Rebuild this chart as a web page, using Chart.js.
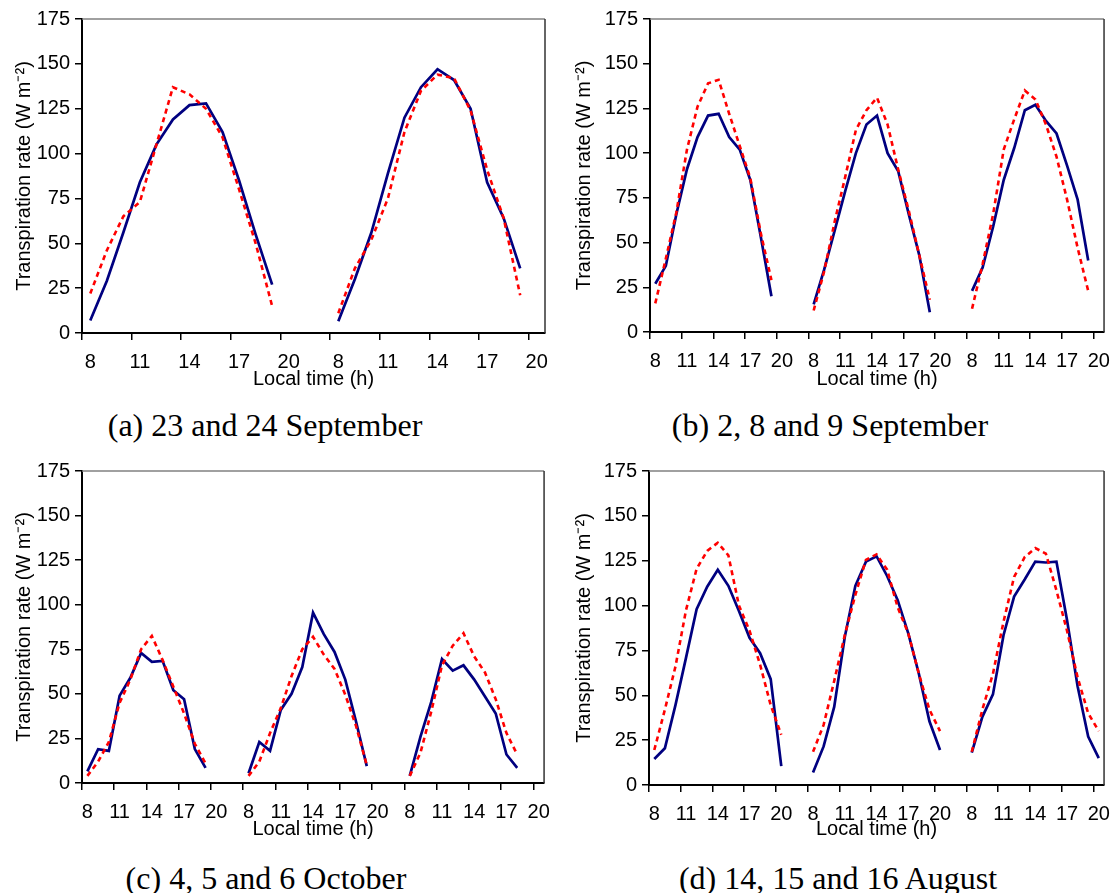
<!DOCTYPE html>
<html>
<head>
<meta charset="utf-8">
<script src="https://cdn.jsdelivr.net/npm/chart.js@4.4.1/dist/chart.umd.min.js"></script>
<style>
  html, body { margin: 0; padding: 0; background: #fff; }
  #page { position: relative; width: 1120px; height: 893px; overflow: hidden; }
  canvas { position: absolute; }
  .caption {
    position: absolute;
    font-family: 'Liberation Serif', 'Times New Roman', serif;
    font-size: 32px;
    line-height: 36px;
    text-align: center;
    color: #000;
    white-space: nowrap;
  }
</style>
</head>
<body>
<div id="page">
  <canvas id="chart-a" width="560" height="400" style="left:0px;top:0px"></canvas>
  <canvas id="chart-b" width="560" height="400" style="left:560px;top:0px"></canvas>
  <canvas id="chart-c" width="560" height="400" style="left:0px;top:452px"></canvas>
  <canvas id="chart-d" width="560" height="400" style="left:560px;top:452px"></canvas>
  <div class="caption" style="left:0px;width:530px;top:407px">(a) 23 and 24 September</div>
  <div class="caption" style="left:560px;width:540px;top:407px">(b) 2, 8 and 9 September</div>
  <div class="caption" style="left:0px;width:532px;top:860px">(c) 4, 5 and 6 October</div>
  <div class="caption" style="left:560px;width:556px;top:860px">(d) 14, 15 and 16 August</div>
</div>
<script>
// hours of one day on the category axis, two empty slots between days
const hours = [8, 9, 10, 11, 12, 13, 14, 15, 16, 17, 18, 19, 20];
const gapSlots = 2;
const labelEvery = 3;
const yMax = 175;
const yStep = 25;

// (a) 23 and 24 September
const measuredA = [
    [7, 29, 56, 84, 105, 119, 127, 128, 112, 85, 55, 27],
    [6.5, 30, 56, 89, 120, 137, 147, 141, 125, 84, 64, 36]
];
const predictedA = [
    [22, 46, 65, 73, 105, 137, 133, 125, 109, 80, 50, 15],
    [11, 36, 52, 75, 112, 135, 144, 142, 124, 91, 64, 21]
];

// (b) 2, 8 and 9 September
const measuredB = [
    [27, 37, 66, 91, 109, 121, 122, 109, 102, 85, 53, 20],
    [15.5, 35, 57, 79, 100, 116, 121, 100, 90, 66, 43, 11],
    [23, 36, 59, 85, 103, 124, 127, 118, 111, 93, 74, 40]
];
const predictedB = [
    [16, 41, 67, 102, 126, 139, 141, 122, 104, 86, 55, 29],
    [12, 34, 62, 87, 113, 124, 131, 116, 91, 68, 43, 18],
    [13, 38, 66, 102, 119, 135, 130, 116, 98, 74, 47, 23]
];

// (c) 4, 5 and 6 October
const measuredC = [
    [6.5, 19, 18, 49, 59, 73, 68, 68.5, 52, 47, 19, 8.5],
    [5.5, 23, 18, 41, 50, 65, 95.5, 83.5, 73.5, 58, 34.5, 9.5],
    [4, 26, 45.5, 69.5, 63, 66, 58, 48.5, 39, 16, 8.5]
];
const predictedC = [
    [4, 12, 23, 45, 58, 75, 82.5, 69, 54, 39, 22, 11],
    [4, 12, 28, 42, 60, 75, 82, 72, 64, 49.5, 32, 10],
    [4, 17, 40, 66, 77, 84, 71, 62, 47, 28, 16]
];

// (d) 14, 15 and 16 August
const measuredD = [
    [14.5, 20.5, 44.5, 71, 98, 110.5, 120, 111, 97, 82, 73.5, 59, 10.5],
    [7, 21.5, 43.5, 82.5, 111, 124.5, 127.5, 116.5, 103, 84.5, 62, 35.5, 19.5],
    [18, 38, 50.5, 83.5, 105, 114.5, 124.5, 124, 124.5, 92, 55, 27, 15]
];
const predictedD = [
    [19.5, 42, 66, 97.5, 120.5, 130.5, 135, 128, 100, 86, 67, 44.5, 28],
    [18.5, 33.5, 58, 83.5, 106, 125.5, 128.5, 120, 99, 84.5, 62, 42, 30],
    [18.5, 42, 62, 91, 116, 127, 132, 129, 108.5, 86, 60, 40, 30]
];

function buildLabels(nDays) {
    const labels = [];
    for (let d = 0; d < nDays; d++) {
        hours.forEach(h => labels.push(String(h)));
        if (d < nDays - 1) {
            for (let g = 0; g < gapSlots; g++) labels.push('');
        }
    }
    return labels;
}

function buildSeries(days) {
    const out = [];
    days.forEach((vals, d) => {
        for (let i = 0; i < hours.length; i++) {
            out.push(i < vals.length ? vals[i] : null);
        }
        if (d < days.length - 1) {
            for (let g = 0; g < gapSlots; g++) out.push(null);
        }
    });
    return out;
}

// top and right edges of the plot area
const frameBox = {
    id: 'frameBox',
    beforeDatasetsDraw(chart) {
        const { ctx, chartArea: a } = chart;
        ctx.save();
        ctx.lineWidth = 1.5;
        ctx.strokeStyle = '#808080';
        ctx.beginPath();
        ctx.moveTo(a.left, a.top);
        ctx.lineTo(a.right, a.top);
        ctx.stroke();
        ctx.strokeStyle = '#333';
        ctx.beginPath();
        ctx.moveTo(a.right, a.top);
        ctx.lineTo(a.right, a.bottom);
        ctx.stroke();
        ctx.restore();
    }
};

const axisFont = { family: "'Liberation Sans', Arial, sans-serif", size: 20 };

function makePanel(id, measured, predicted, geo) {
    const labels = buildLabels(measured.length);
    return new Chart(document.getElementById(id), {
        type: 'line',
        data: {
            labels: labels,
            datasets: [
                {
                    label: 'Predicted',
                    data: buildSeries(predicted),
                    borderColor: '#ff0000',
                    borderWidth: 2.6,
                    borderDash: [5, 4],
                    pointRadius: 0,
                    tension: 0,
                    fill: false,
                    spanGaps: false
                },
                {
                    label: 'Measured',
                    data: buildSeries(measured),
                    borderColor: '#000080',
                    borderWidth: 2.7,
                    pointRadius: 0,
                    tension: 0,
                    fill: false,
                    spanGaps: false
                }
            ]
        },
        options: {
            responsive: false,
            animation: false,
            devicePixelRatio: 1,
            layout: { padding: { left: 0, right: geo.right, top: geo.top, bottom: 0 } },
            plugins: { legend: { display: false }, tooltip: { enabled: false } },
            scales: {
                x: {
                    type: 'category',
                    offset: true,
                    border: { display: true, color: '#000', width: 2 },
                    grid: {
                        drawOnChartArea: false,
                        drawTicks: true,
                        tickLength: 7,
                        offset: true,
                        lineWidth: 1.5,
                        color: ctx => (ctx.index % labelEvery === 0) ? '#000' : 'rgba(0,0,0,0)'
                    },
                    ticks: {
                        autoSkip: false,
                        maxRotation: 0,
                        color: '#000',
                        font: axisFont,
                        padding: 10,
                        callback: (val, idx) => (idx % labelEvery === 0) ? labels[idx] : ''
                    },
                    title: {
                        display: true,
                        text: 'Local time (h)',
                        color: '#000',
                        font: axisFont,
                        padding: { top: 0, bottom: geo.titleBottom }
                    },
                    afterFit: scale => { scale.height = geo.xHeight; }
                },
                y: {
                    min: 0,
                    max: yMax,
                    border: { display: true, color: '#000', width: 2 },
                    grid: {
                        drawOnChartArea: false,
                        drawTicks: true,
                        tickLength: 7,
                        lineWidth: 1.5,
                        color: '#000'
                    },
                    ticks: {
                        stepSize: yStep,
                        color: '#000',
                        font: axisFont,
                        padding: 5
                    },
                    title: {
                        display: true,
                        text: 'Transpiration rate (W m\u207B\u00B2)',
                        color: '#000',
                        font: axisFont,
                        padding: { top: 12, bottom: 0 }
                    },
                    afterFit: scale => { scale.width = geo.yWidth; }
                }
            }
        },
        plugins: [frameBox]
    });
}

makePanel('chart-a', measuredA, predictedA, { yWidth: 82, right: 15, top: 19, xHeight: 67, titleBottom: 9 });
makePanel('chart-b', measuredB, predictedB, { yWidth: 90, right: 10, top: 19, xHeight: 68, titleBottom: 9 });
makePanel('chart-c', measuredC, predictedC, { yWidth: 82, right: 15, top: 19, xHeight: 69, titleBottom: 11 });
makePanel('chart-d', measuredD, predictedD, { yWidth: 89, right: 10, top: 19, xHeight: 67, titleBottom: 11 });
</script>
</body>
</html>
